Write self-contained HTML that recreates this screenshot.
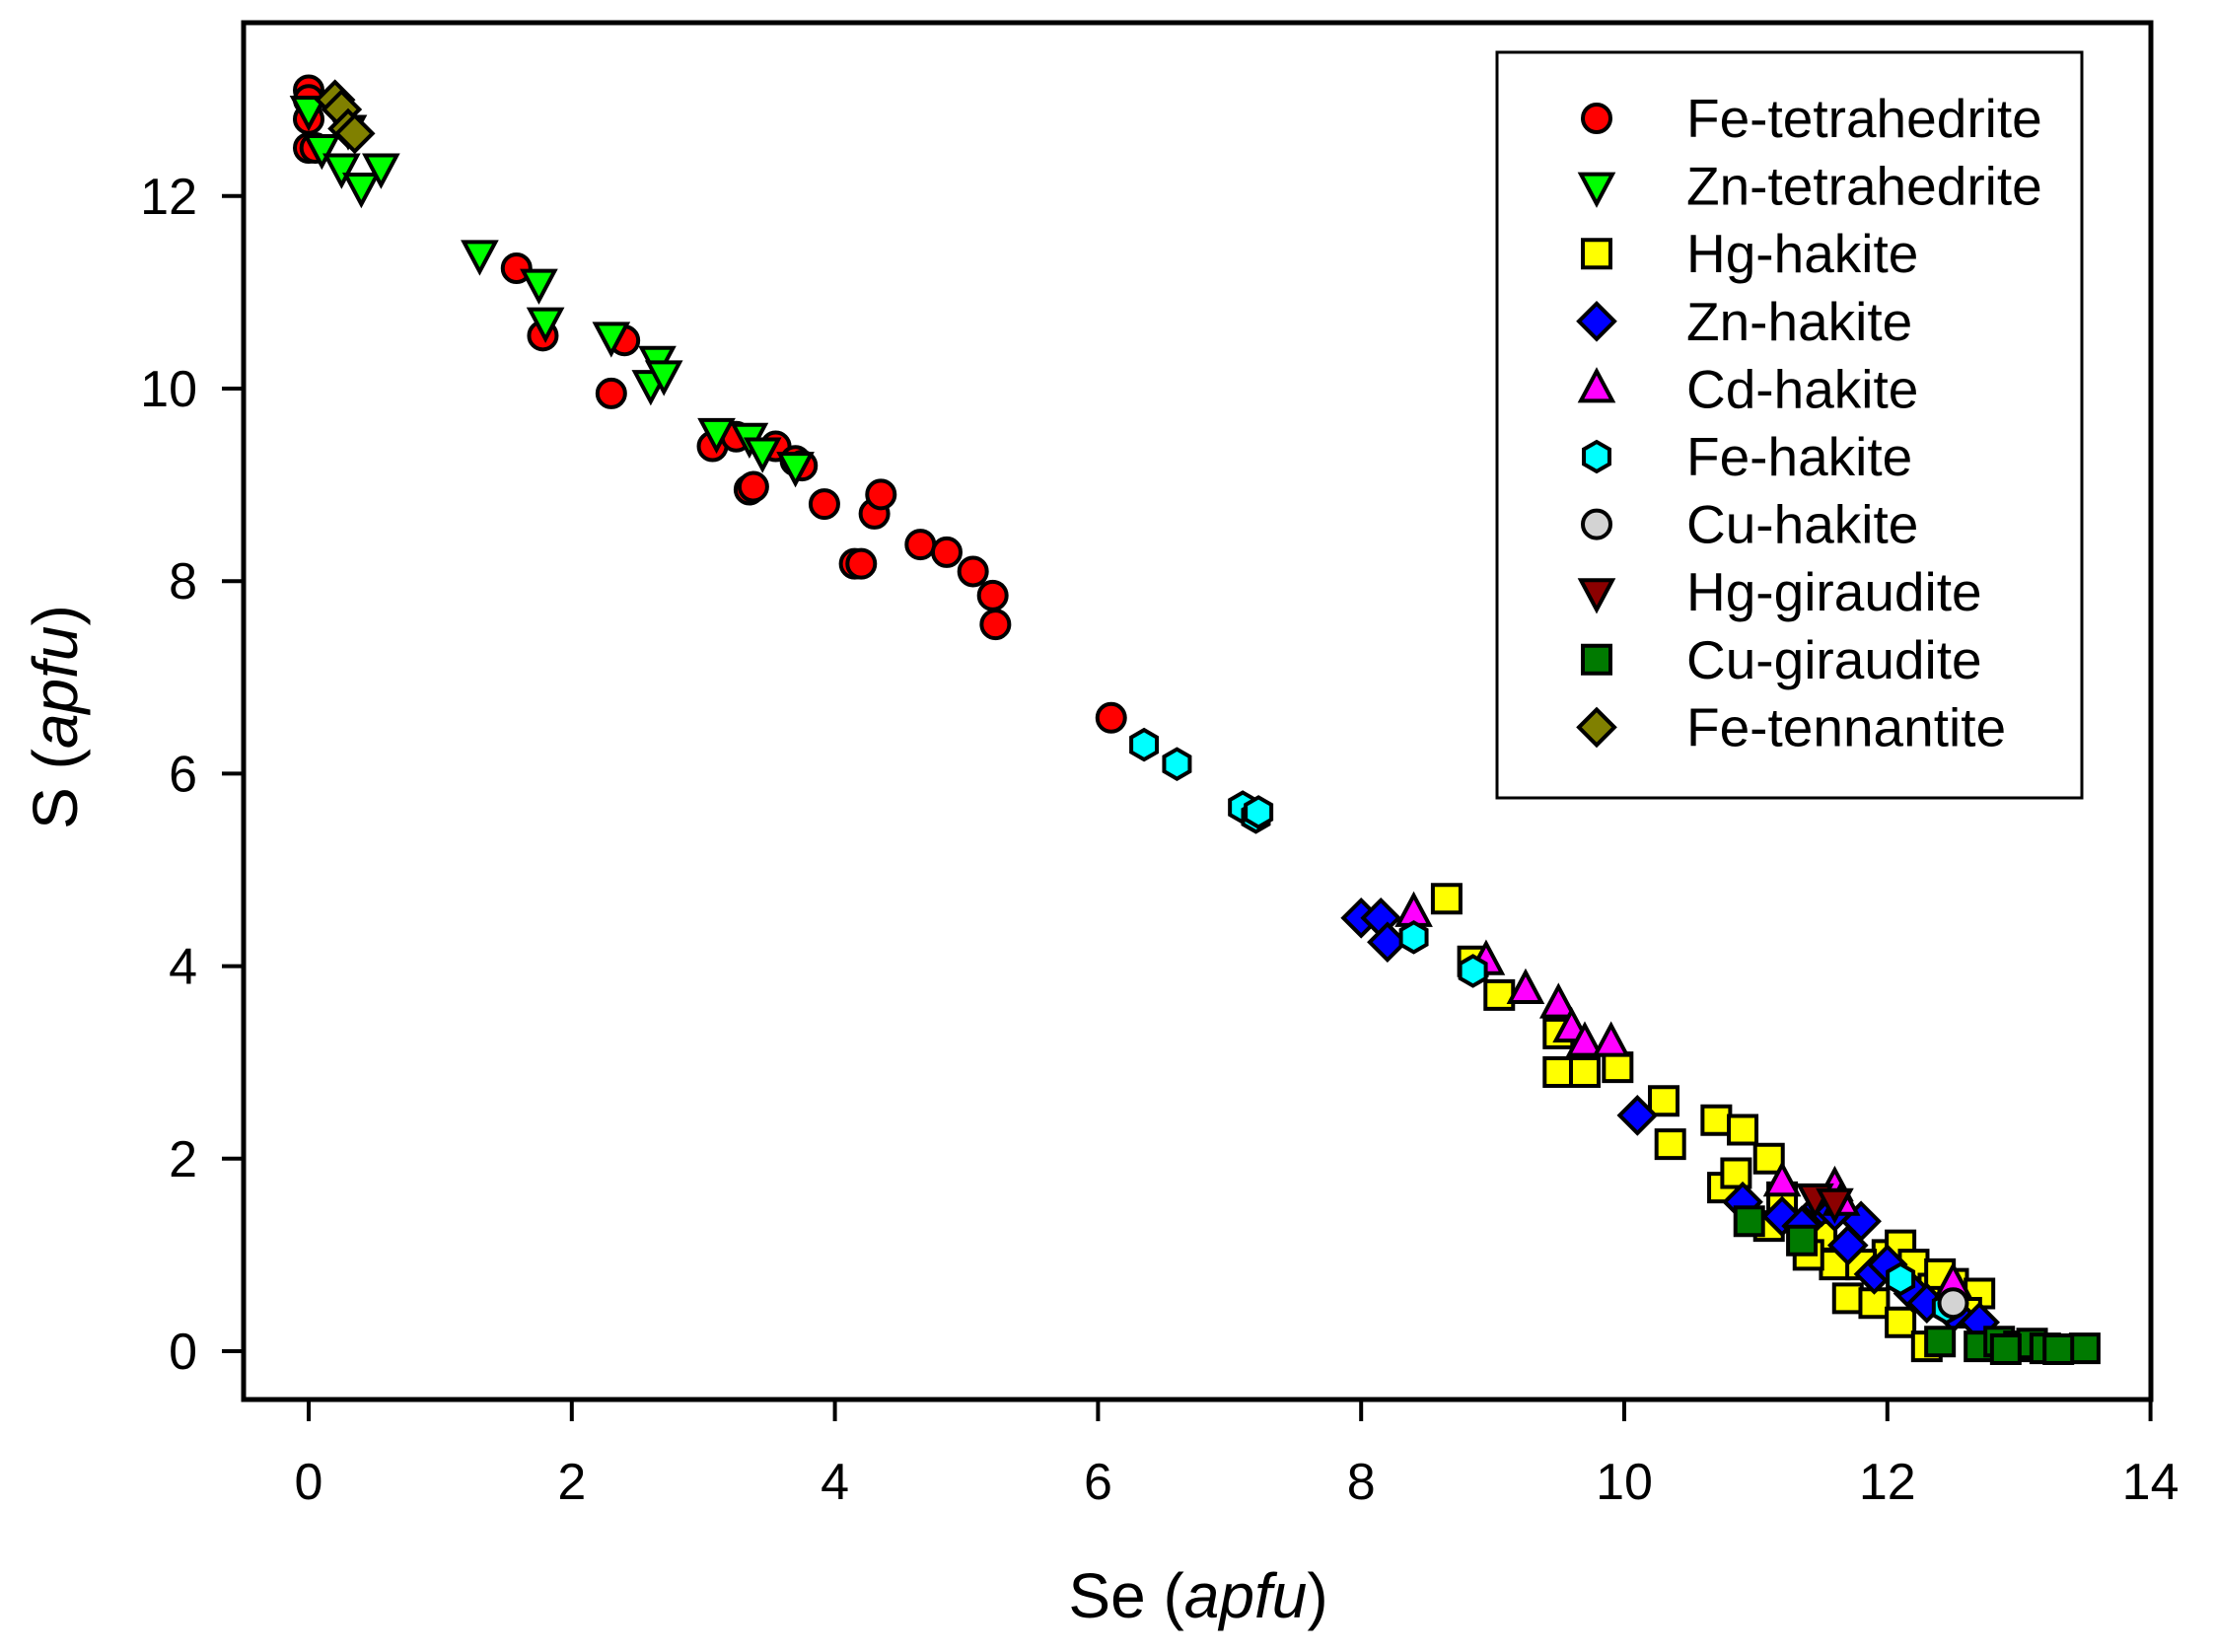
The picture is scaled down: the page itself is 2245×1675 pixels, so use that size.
<!DOCTYPE html>
<html><head><meta charset="utf-8"><style>
html,body{margin:0;padding:0;background:#fff;}
svg{display:block;font-family:"Liberation Sans",Arial,sans-serif;}
</style></head><body>
<svg id="chart" width="2245" height="1675" viewBox="0 0 2245 1675" xmlns="http://www.w3.org/2000/svg">
<g id="marks"></g>
<rect x="247" y="23" width="1934" height="1396" fill="none" stroke="#000" stroke-width="5"/>
<g id="xticks"></g>
<g id="yticks"></g>
<text x="1215" y="1640" font-size="64" text-anchor="middle">Se (<tspan font-style="italic">apfu</tspan>)</text>
<text transform="translate(78,727) rotate(-90)" font-size="64" text-anchor="middle">S (<tspan font-style="italic">apfu</tspan>)</text>
<g id="legend">
<rect x="1518" y="53" width="593" height="756" fill="#fff" stroke="#000" stroke-width="3"/>
</g>
</svg>
<script>
const xTicks=[0,2,4,6,8,10,12,14];
const yTicks=[0,2,4,6,8,10,12];
const seriesNames=["Fe-tetrahedrite","Zn-tetrahedrite","Hg-hakite","Zn-hakite","Cd-hakite","Fe-hakite","Cu-hakite","Hg-giraudite","Cu-giraudite","Fe-tennantite"];
const seriesColors=["#ff0000","#00ff00","#ffff00","#0000ff","#ff00ff","#00ffff","#d3d3d3","#8b0000","#007a00","#808000"];
const seriesShapes=["circle","down","square","diamond","up","hex","circle","down","square","diamond"];
const feTetX=[0,0,0,0,0.05,1.58,1.78,2.4,2.3,3.07,3.25,3.35,3.38,3.55,3.7,3.75,3.92,4.15,4.2,4.3,4.35,4.65,4.85,5.05,5.2,5.22,6.1];
const feTetY=[13.1,13.0,12.8,12.5,12.5,11.25,10.55,10.5,9.95,9.4,9.5,8.95,8.98,9.4,9.25,9.2,8.8,8.18,8.18,8.7,8.9,8.38,8.3,8.1,7.85,7.55,6.58];
const znTetX=[0,0.1,0.25,0.4,0.55,0.3,1.3,1.75,1.8,2.3,2.6,2.65,2.7,3.1,3.35,3.45,3.7];
const znTetY=[12.9,12.5,12.3,12.1,12.3,12.7,11.4,11.1,10.7,10.55,10.05,10.3,10.15,9.55,9.5,9.35,9.2];
const hgHakX=[8.65,8.85,9.05,9.5,9.5,9.7,9.95,10.3,10.35,10.7,10.9,10.75,10.85,11.1,11.1,11.2,11.5,11.6,11.7,11.9,12.0,12.1,12.2,12.35,12.5,12.7,12.6,12.1,12.3,11.4,11.8,12.4];
const hgHakY=[4.7,4.05,3.7,3.3,2.9,2.9,2.95,2.6,2.15,2.4,2.3,1.7,1.85,2.0,1.3,1.6,1.2,0.9,0.55,0.5,1.0,1.1,0.9,0.65,0.7,0.6,0.4,0.3,0.05,1.0,0.9,0.8];
const znHakX=[8.0,8.15,8.2,10.1,10.9,11.2,11.35,11.5,11.8,11.7,11.9,12.0,12.2,12.3,12.5,12.7,11.6];
const znHakY=[4.5,4.5,4.25,2.45,1.55,1.4,1.3,1.5,1.35,1.1,0.8,0.9,0.6,0.5,0.4,0.3,1.45];
const cdHakX=[8.4,8.95,9.25,9.5,9.6,9.7,9.9,11.2,11.6,12.5,11.65];
const cdHakY=[4.55,4.05,3.75,3.6,3.35,3.2,3.2,1.75,1.7,0.7,1.55];
const feHakX=[6.35,6.6,7.1,7.2,7.22,8.4,8.85,12.1,12.45];
const feHakY=[6.3,6.1,5.65,5.55,5.6,4.3,3.95,0.75,0.45];
const cuHakX=[12.5];
const cuHakY=[0.5];
const hgGirX=[11.45,11.6];
const hgGirY=[1.6,1.55];
const cuGirX=[10.95,11.35,12.4,12.7,12.85,13.0,13.1,13.2,13.5,12.9,13.3];
const cuGirY=[1.35,1.15,0.1,0.05,0.1,0.05,0.08,0.03,0.03,0.02,0.02];
const feTenX=[0.2,0.25,0.3,0.35];
const feTenY=[13.0,12.9,12.7,12.65];
const allX=[feTetX,znTetX,hgHakX,znHakX,cdHakX,feHakX,cuHakX,hgGirX,cuGirX,feTenX];
const allY=[feTetY,znTetY,hgHakY,znHakY,cdHakY,feHakY,cuHakY,hgGirY,cuGirY,feTenY];

const NS="http://www.w3.org/2000/svg";
const X0=313, XS=133.4, Y0=1370, YS=97.6;
function sx(v){return X0+v*XS;}
function sy(v){return Y0-v*YS;}
function marker(shape,cx,cy,fill){
  let el,r=14;
  if(shape==="circle"){el=document.createElementNS(NS,"circle");el.setAttribute("cx",cx);el.setAttribute("cy",cy);el.setAttribute("r",r);}
  else{
    let pts;
    if(shape==="square")pts=[[-14,-14],[14,-14],[14,14],[-14,14]];
    else if(shape==="diamond")pts=[[0,-18],[18,0],[0,18],[-18,0]];
    else if(shape==="up")pts=[[0,-18],[16,12],[-16,12]];
    else if(shape==="down")pts=[[0,18],[16,-12],[-16,-12]];
    else{pts=[];for(let i=0;i<6;i++){const a=Math.PI/6+i*Math.PI/3;pts.push([15*Math.cos(a),15*Math.sin(a)]);}}
    el=document.createElementNS(NS,"polygon");
    el.setAttribute("points",pts.map(p=>(cx+p[0])+","+(cy+p[1])).join(" "));
  }
  el.setAttribute("fill",fill);el.setAttribute("stroke","#000");el.setAttribute("stroke-width","4");
  return el;
}
const marks=document.getElementById("marks");
for(let s=0;s<seriesNames.length;s++){
  const g=document.createElementNS(NS,"g");
  
  
  for(let i=0;i<allX[s].length;i++){
    const m=marker(seriesShapes[s],sx(allX[s][i]),sy(allY[s][i]),seriesColors[s]);
    
    
    g.appendChild(m);
  }
  marks.appendChild(g);
}
const xt=document.getElementById("xticks");
xTicks.forEach(v=>{
  const l=document.createElementNS(NS,"line");
  l.setAttribute("x1",sx(v));l.setAttribute("x2",sx(v));l.setAttribute("y1",1419);l.setAttribute("y2",1441);
  l.setAttribute("stroke","#000");l.setAttribute("stroke-width","4");
  
  
  xt.appendChild(l);
  const t=document.createElementNS(NS,"text");
  t.setAttribute("x",sx(v));t.setAttribute("y",1520);t.setAttribute("font-size","52");t.setAttribute("text-anchor","middle");
  t.textContent=v;
  
  
  xt.appendChild(t);
});
const yt=document.getElementById("yticks");
yTicks.forEach(v=>{
  const l=document.createElementNS(NS,"line");
  l.setAttribute("x1",225);l.setAttribute("x2",247);l.setAttribute("y1",sy(v));l.setAttribute("y2",sy(v));
  l.setAttribute("stroke","#000");l.setAttribute("stroke-width","4");
  
  
  yt.appendChild(l);
  const t=document.createElementNS(NS,"text");
  t.setAttribute("x",200);t.setAttribute("y",sy(v)+18);t.setAttribute("font-size","52");t.setAttribute("text-anchor","end");
  t.textContent=v;
  
  
  yt.appendChild(t);
});
const lg=document.getElementById("legend");
seriesNames.forEach((n,i)=>{
  const y=120+i*68.6;
  const g=document.createElementNS(NS,"g");
  
  
  g.appendChild(marker(seriesShapes[i],1619,y,seriesColors[i]));
  const t=document.createElementNS(NS,"text");
  t.setAttribute("x",1710);t.setAttribute("y",y+19);t.setAttribute("font-size","55");
  t.textContent=n;
  g.appendChild(t);
  lg.appendChild(g);
});
</script>
</body></html>
